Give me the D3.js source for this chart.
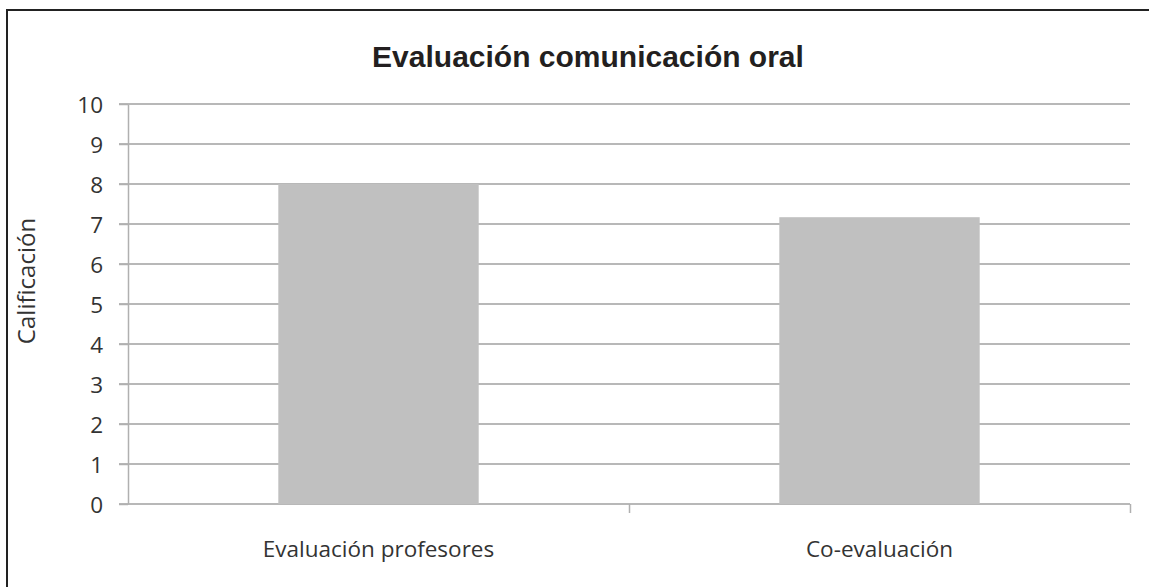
<!DOCTYPE html>
<head>
<meta charset="utf-8">
<style type="text/css">
body { margin: 0; background: white; }
.grid line { stroke: #b8b8b8; stroke-width: 2; }
.axis text { font-family: "Open Sans", sans-serif; font-size: 22.5px; fill: #333; }
.axis path, .axis line { stroke: #b0b0b0; stroke-width: 1.5; }
.bar { fill: #c0c0c0; }
</style>
</head>
<body>
<script src="https://cdn.jsdelivr.net/npm/d3@7"></script>
<script type="text/javascript">
  var categories = ['Evaluación profesores', 'Co-evaluación'];
  var values = [8.0, 7.17];
  var yTicks = [0, 1, 2, 3, 4, 5, 6, 7, 8, 9, 10];

  var width = 1149, height = 587;
  var margin = {left: 128, right: 19, top: 104, bottom: 83};

  var svg = d3.select('body').append('svg')
          .attr('width', width)
          .attr('height', height);

  // frame (only top and left edges are inside the picture)
  svg.append('rect')
          .attr('x', 7).attr('y', 10)
          .attr('width', width + 20).attr('height', height + 20)
          .attr('fill', 'white')
          .attr('stroke', '#222')
          .attr('stroke-width', 2);

  var x = d3.scaleBand()
          .domain(categories)
          .range([margin.left, width - margin.right])
          .paddingInner(0.6)
          .paddingOuter(0.3);

  var xLine = d3.scaleLinear().domain([0, categories.length])
          .range([margin.left, width - margin.right]);

  var y = d3.scaleLinear()
          .domain([0, 10])
          .range([height - margin.bottom, margin.top]);

  // gridlines
  svg.append('g').attr('class', 'grid')
          .selectAll('line')
          .data(yTicks)
          .enter().append('line')
          .attr('x1', margin.left - 9)
          .attr('x2', width - margin.right)
          .attr('y1', function(d){ return y(d); })
          .attr('y2', function(d){ return y(d); });

  // bars
  svg.selectAll('.bar')
          .data(values)
          .enter().append('rect')
          .attr('class', 'bar')
          .attr('x', function(d, i){ return x(categories[i]); })
          .attr('y', function(d){ return y(d); })
          .attr('width', x.bandwidth())
          .attr('height', function(d){ return y(0) - y(d); });

  // y axis
  var yAxis = svg.append('g').attr('class', 'axis')
          .attr('transform', 'translate(' + margin.left + ',0)')
          .call(d3.axisLeft(y).tickValues(yTicks).tickSize(9).tickPadding(16).tickSizeOuter(0));
  yAxis.selectAll('text').attr('dy', '0.36em');

  // x axis: Excel style ticks between categories
  var xAxis = svg.append('g').attr('class', 'axis')
          .attr('transform', 'translate(0,' + y(0) + ')');
  xAxis.call(d3.axisBottom(xLine).tickValues(d3.range(categories.length + 1)).tickSize(9).tickFormat('').tickSizeOuter(0));
  xAxis.select('.domain').remove();
  xAxis.selectAll('.tick').filter(function(d){ return d === 0; }).remove();
  xAxis.selectAll('.cat')
          .data(categories)
          .enter().append('text')
          .attr('class', 'cat')
          .attr('x', function(d){ return x(d) + x.bandwidth() / 2; })
          .attr('y', 53)
          .attr('text-anchor', 'middle')
          .text(function(d){ return d; });

  // title
  svg.append('text')
          .attr('x', 588)
          .attr('y', 67)
          .attr('text-anchor', 'middle')
          .style('font-family', '"Liberation Sans", Arial, sans-serif')
          .style('font-weight', 'bold')
          .style('font-size', '30px')
          .style('fill', '#231f20')
          .text('Evaluación comunicación oral');

  // y label
  svg.append('text')
          .attr('transform', 'translate(35,281) rotate(-90)')
          .attr('text-anchor', 'middle')
          .style('font-family', '"Open Sans", sans-serif')
          .style('font-size', '24px')
          .style('fill', '#333')
          .text('Calificación');
</script>
</body>
